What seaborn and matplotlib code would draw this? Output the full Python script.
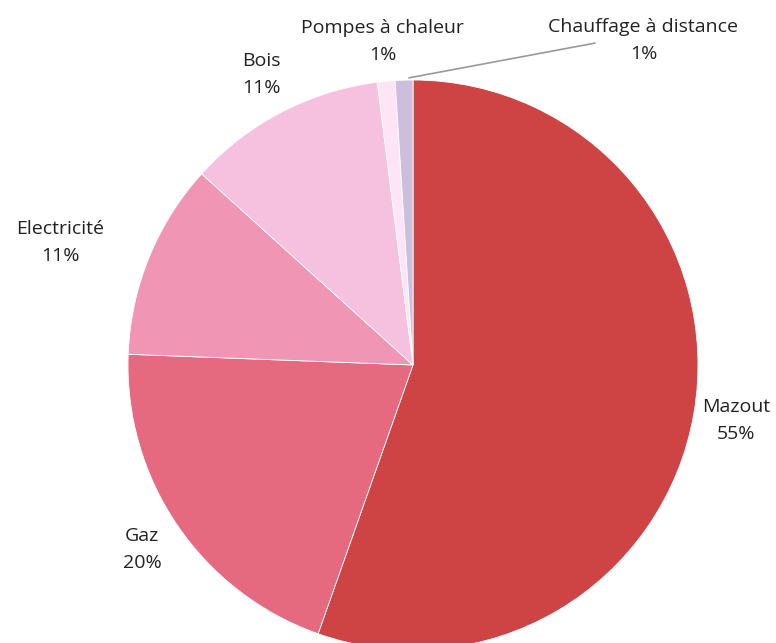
import numpy as np
import matplotlib.pyplot as plt
import seaborn as sns

# ---------------- DATA ----------------
labels = ["Mazout", "Gaz", "Electricité", "Bois", "Pompes à chaleur", "Chauffage à distance"]
values = [55.4, 20.2, 11.1, 11.3, 1.0, 1.0]
colors = ["#CE4343", "#E56A80", "#F096B4", "#F6C0DF", "#FDE4F6", "#CBBFDB"]

sns.set_theme(style="white")
plt.rcParams["font.family"] = ["Open Sans", "DejaVu Sans"]

fig = plt.figure(figsize=(7.76, 6.43), dpi=100)
# pie centred at (413, 365) px from top-left, radius 285 px
ax = fig.add_axes([128 / 776, (643 - 365 - 285) / 643, 570 / 776, 570 / 643])

wedges, _ = ax.pie(values, colors=colors, startangle=90, counterclock=False,
                   radius=1, wedgeprops=dict(edgecolor="white", linewidth=0.6))
ax.set_xlim(-1, 1)
ax.set_ylim(-1, 1)
ax.set_aspect("equal")
ax.axis("off")

# label distance / angle shift per slice (the last one uses a leader line)
dist = [1.15, 1.15, 1.31, 1.15, 1.14, None]
shift = [0, 0, 3, 0, 0, 0]
style = dict(ha="center", va="center", fontsize=14, color="#222222", linespacing=1.65)
for w, lab, v, d, s in zip(wedges, labels, values, dist, shift):
    ang = np.deg2rad((w.theta1 + w.theta2) / 2 + s)
    txt = f"{lab}\n{round(v):.0f}%"
    if d is not None:
        ax.text(d * np.cos(ang), d * np.sin(ang), txt, **style)
    else:
        x0, y0 = np.cos(ang), np.sin(ang)
        ax.plot([x0 + 0.017, x0 + 0.67], [y0 + 0.008, y0 + 0.13], color="#999999",
                lw=1.2, clip_on=False)
        ax.text(x0 + 0.84, y0 + 0.14, txt, **style)

fig.savefig("out.png", dpi=100)
